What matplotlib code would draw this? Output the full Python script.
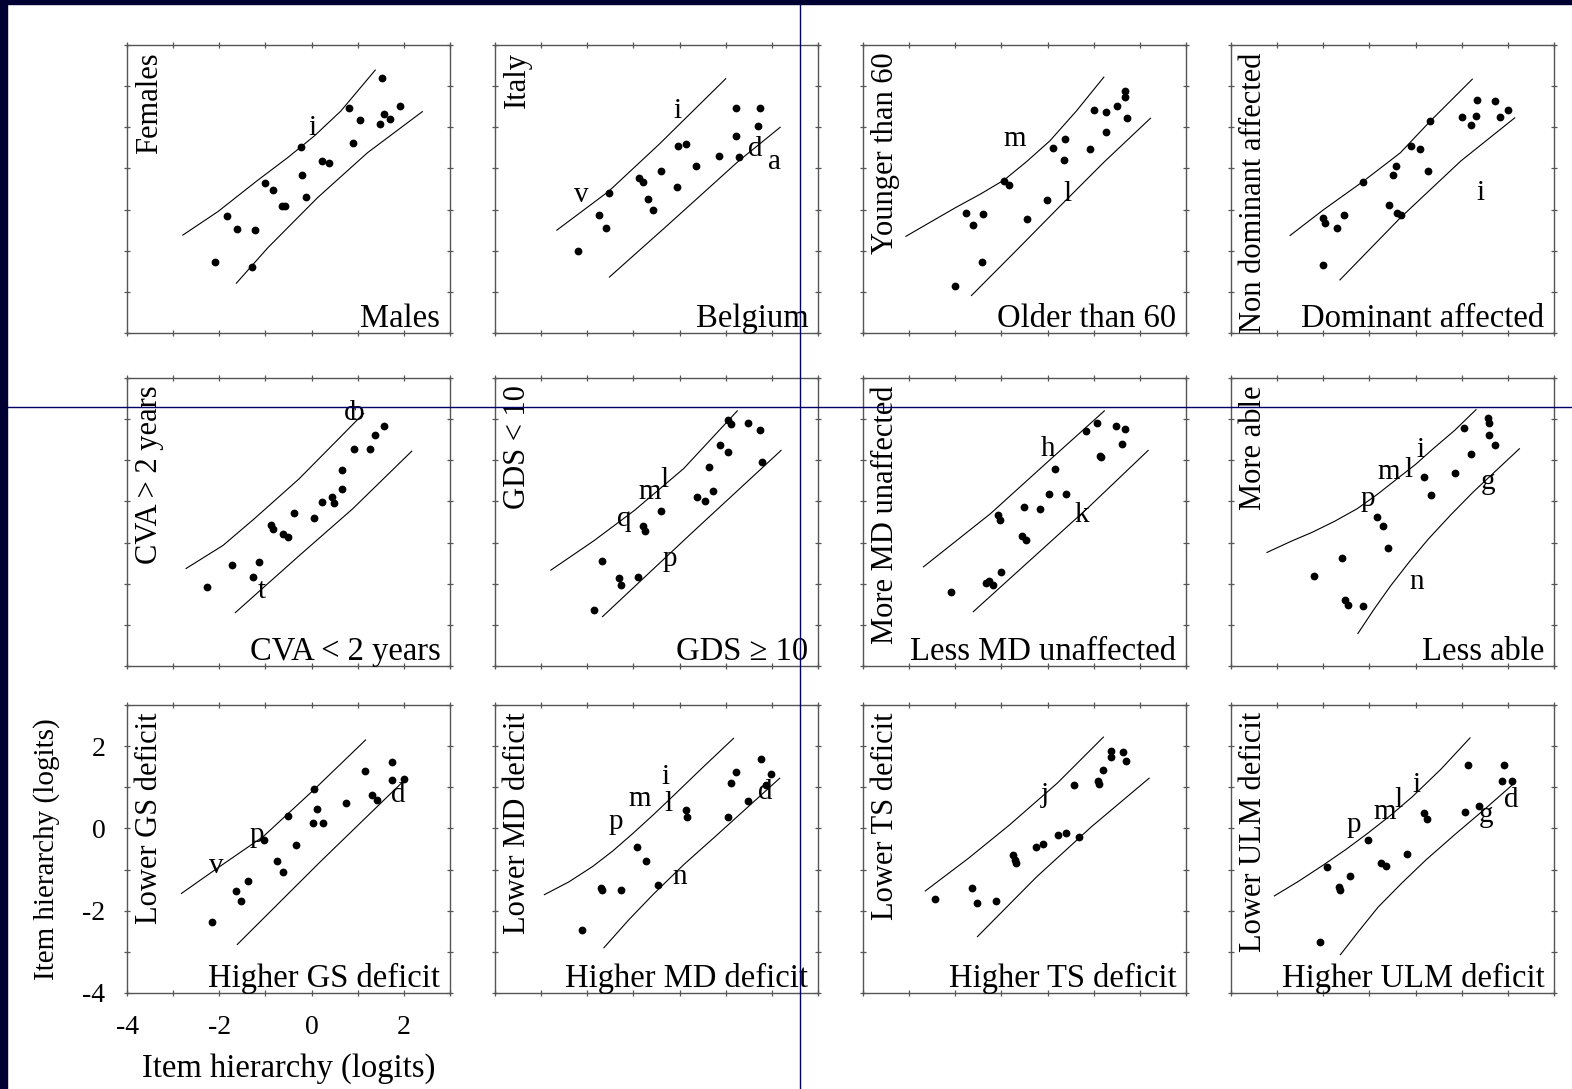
import matplotlib
matplotlib.use("Agg")
import matplotlib.pyplot as plt
from matplotlib.patches import Rectangle
from matplotlib.lines import Line2D

plt.rcParams['font.family'] = ['Liberation Serif', 'DejaVu Serif']
plt.rcParams['axes.unicode_minus'] = False

# --- data (logits) ---
# row 1
gender_x = [-2.10, -1.83, -1.62, -1.22, -1.30, -1.00, -0.84, -0.64, -0.58, -0.23, -0.20,
            -0.13, 0.23, 0.37, 0.81, 0.90, 1.05, 1.48, 1.53, 1.57, 1.71, 1.91]
gender_y = [-2.27, -1.15, -1.48, -1.50, -2.40, -0.36, -0.53, -0.92, -0.91, 0.53, -0.16,
            -0.70, 0.18, 0.13, 1.47, 0.62, 1.18, 1.07, 2.20, 1.33, 1.21, 1.51]
gender_hi = [(-2.79, -1.62), (-2.03, -1.05), (-1.17, -0.29), (-0.52, 0.26), (0.06, 0.79), (0.63, 1.39), (1.38, 2.39)]
gender_lo = [(-1.63, -2.79), (-0.95, -1.93), (0.13, -0.71), (1.21, 0.38), (2.40, 1.38)]
gender_tags = [("i", 0.02, 0.99)]

country_x = [-2.20, -1.74, -1.60, -1.54, -0.87, -0.79, -0.69, -0.58, -0.40, -0.06, -0.03,
             0.14, 0.35, 0.86, 1.23, 1.23, 1.29, 1.70, 1.75]
country_y = [-2.00, -1.13, -1.45, -0.59, -0.24, -0.33, -0.74, -1.01, -0.07, -0.46, 0.54,
             0.59, 0.06, 0.31, 1.47, 0.80, 0.28, 1.04, 1.47]
country_hi = [(-2.66, -1.50), (-1.54, -0.56), (-0.44, 0.59), (1.00, 2.18)]
country_lo = [(-1.52, -2.64), (-0.24, -1.36), (1.29, 0.19), (2.18, 1.00)]
country_tags = [("i", -0.05, 1.39), ("v", -2.13, -0.64), ("d", 1.65, 0.47), ("a", 2.06, 0.15)]

age_x = [-2.01, -1.77, -1.62, -1.43, -1.39, -0.94, -0.83, -0.45, -0.01, 0.12, 0.36,
         0.38, 0.93, 1.01, 1.26, 1.26, 1.50, 1.67, 1.67, 1.72]
age_y = [-2.85, -1.09, -1.38, -2.28, -1.11, -0.30, -0.41, -1.22, -0.77, 0.50, 0.20,
         0.71, 0.47, 1.43, 1.38, 0.89, 1.52, 1.87, 1.74, 1.23]
age_hi = [(-3.07, -1.65), (-2.50, -1.28), (-1.99, -0.95), (-1.45, -0.62), (-0.94, -0.28),
          (-0.45, 0.17), (0.05, 0.67), (0.62, 1.39), (1.22, 2.22)]
age_lo = [(-1.65, -3.09), (-0.70, -2.02), (0.24, -0.95), (1.22, 0.15), (2.23, 1.22)]
age_tags = [("m", -0.71, 0.72), ("l", 0.44, -0.63)]

side_x = [-2.01, -2.01, -1.96, -1.70, -1.56, -1.13, -0.57, -0.49, -0.42, -0.41, -0.32,
          -0.09, 0.09, 0.28, 0.31, 1.01, 1.21, 1.32, 1.33, 1.72, 1.83, 2.01]
side_y = [-2.34, -1.20, -1.33, -1.46, -1.13, -0.32, -0.90, -0.15, 0.07, -1.08, -1.13,
          0.54, 0.47, -0.07, 1.15, 1.24, 1.05, 1.27, 1.66, 1.65, 1.24, 1.43]
side_hi = [(-2.72, -1.63), (-1.99, -1.00), (-1.13, -0.31), (-0.33, 0.38), (0.31, 1.14), (1.23, 2.17)]
side_lo = [(-1.64, -2.71), (-0.33, -1.20), (0.98, 0.18), (2.15, 1.23)]
side_tags = [("i", 1.40, -0.59)]

# row 2
cva_x = [-2.27, -1.72, -1.28, -1.15, -0.87, -0.83, -0.61, -0.51, -0.39, 0.06, 0.23,
         0.45, 0.48, 0.65, 0.67, 0.91, 1.27, 1.37, 1.58]
cva_y = [-2.08, -1.54, -1.83, -1.47, -0.58, -0.66, -0.79, -0.87, -0.28, -0.41, -0.02,
         0.11, -0.05, 0.30, 0.76, 1.28, 1.28, 1.61, 1.84]
cva_hi = [(-2.72, -1.63), (-1.92, -1.07), (-1.24, -0.42), (-0.27, 0.55), (1.13, 2.14)]
cva_lo = [(-1.65, -2.70), (-0.27, -1.32), (0.89, -0.18), (2.17, 1.22)]
cva_tags = [("c", 0.84, 2.16), ("b", 1.00, 2.16), ("t", -1.09, -2.17)]

gds_x = [-1.86, -1.68, -1.31, -1.28, -0.91, -0.80, -0.74, -0.40, 0.37, 0.56, 0.63,
         0.72, 0.88, 1.05, 1.05, 1.11, 1.48, 1.74, 1.78]
gds_y = [-2.63, -1.44, -1.86, -2.03, -1.83, -0.59, -0.72, -0.23, 0.11, 0.01, 0.84,
         0.25, 1.37, 1.20, 1.98, 1.88, 1.91, 1.73, 0.95]
gds_hi = [(-2.79, -1.67), (-1.85, -0.95), (-0.98, -0.22), (0.09, 0.80), (1.25, 2.20)]
gds_lo = [(-1.67, -2.80), (0.28, -0.75), (2.20, 1.24)]
gds_tags = [("m", -0.64, 0.23), ("l", -0.32, 0.51), ("q", -1.20, -0.42), ("p", -0.22, -1.40)]

mdu_x = [-2.10, -1.34, -1.26, -1.19, -1.00, -1.08, -1.04, -0.55, -0.46, -0.52, -0.17,
         0.04, 0.16, 0.39, 0.83, 1.08, 1.13, 1.16, 1.49, 1.62, 1.67]
mdu_y = [-2.19, -1.98, -1.93, -2.03, -1.71, -0.34, -0.46, -0.85, -0.94, -0.14, -0.18,
         0.19, 0.78, 0.18, 1.72, 1.90, 1.11, 1.07, 1.83, 1.39, 1.76]
mdu_hi = [(-2.69, -1.59), (-1.24, -0.30), (0.02, 0.98), (1.23, 2.20)]
mdu_lo = [(-1.61, -2.68), (-0.27, -1.32), (0.89, -0.14), (2.18, 1.24)]
mdu_tags = [("h", 0.00, 1.27), ("k", 0.75, -0.34)]

able_x = [-2.21, -1.59, -1.53, -1.46, -1.14, -0.84, -0.71, -0.60, 0.18, 0.33, 0.85,
          1.05, 1.21, 1.57, 1.60, 1.60, 1.73]
able_y = [-1.82, -1.38, -2.39, -2.51, -2.53, -0.37, -0.59, -1.14, 0.59, 0.15, 0.68,
          1.79, 1.15, 2.02, 1.91, 1.61, 1.38]
able_hi = [(-3.22, -1.24), (-2.70, -0.97), (-2.24, -0.75), (-1.75, -0.48), (-1.27, -0.18),
           (-0.83, 0.17), (-0.40, 0.55), (0.00, 0.90), (0.38, 1.28), (0.85, 1.73), (1.31, 2.23)]
able_lo = [(-1.25, -3.21), (-0.90, -2.62), (-0.54, -2.05), (-0.13, -1.46), (0.28, -0.91),
           (0.76, -0.33), (1.25, 0.23), (2.25, 1.28)]
able_tags = [("p", -1.03, 0.07), ("m", -0.59, 0.72), ("l", -0.15, 0.76), ("i", 0.11, 1.24),
             ("g", 1.57, 0.47), ("n", 0.02, -1.97)]

# row 3
gs_x = [-2.16, -1.64, -1.54, -1.38, -1.04, -0.74, -0.61, -0.52, -0.33, 0.05, 0.04,
        0.12, 0.24, 0.74, 1.15, 1.31, 1.42, 1.75, 1.75, 2.01]
gs_y = [-2.27, -1.52, -1.77, -1.27, -0.28, -0.78, -1.07, 0.29, -0.41, 0.96, 0.14,
        0.47, 0.14, 0.63, 1.39, 0.81, 0.68, 1.62, 1.17, 1.19]
gs_hi = [(-2.82, -1.58), (-2.06, -0.98), (-1.05, -0.20), (0.05, 0.94), (1.17, 2.15)]
gs_lo = [(-1.61, -2.82), (0.18, -0.82), (2.02, 1.18)]
gs_tags = [("v", -2.06, -0.92), ("p", -1.18, -0.15), ("d", 1.88, 0.82)]

md_x = [-2.12, -1.70, -1.69, -1.27, -0.93, -0.72, -0.47, 0.15, 0.16, 1.04, 1.12,
        1.22, 1.48, 1.76, 1.98, 1.88]
md_y = [-2.48, -1.44, -1.50, -1.50, -0.45, -0.78, -1.37, 0.46, 0.28, 0.28, 1.10,
        1.37, 0.67, 1.69, 1.33, 1.06]
md_hi = [(-2.93, -1.61), (-2.40, -1.30), (-1.89, -0.93), (-1.45, -0.55), (-1.01, -0.12),
         (-0.57, 0.33), (-0.12, 0.81), (0.50, 1.48), (1.17, 2.19)]
md_lo = [(-1.64, -2.90), (-1.10, -2.22), (-0.56, -1.59), (0.10, -0.87), (0.77, -0.20), (2.17, 1.22)]
md_tags = [("i", -0.31, 1.26), ("m", -0.86, 0.72), ("l", -0.24, 0.59), ("p", -1.38, 0.16),
           ("n", 0.00, -1.18), ("d", 1.85, 0.88)]

ts_x = [-2.43, -1.64, -1.52, -1.11, -0.75, -0.71, -0.68, -0.25, -0.09, 0.22, 0.40,
        0.68, 0.58, 1.09, 1.12, 1.20, 1.38, 1.38, 1.63, 1.69]
ts_y = [-1.71, -1.45, -1.81, -1.76, -0.65, -0.77, -0.85, -0.46, -0.37, -0.15, -0.11,
        -0.20, 1.05, 1.16, 1.09, 1.42, 1.89, 1.74, 1.85, 1.63]
ts_hi = [(-2.65, -1.52), (-1.72, -0.73), (-0.83, 0.08), (0.21, 1.10), (1.21, 2.22)]
ts_lo = [(-1.52, -2.63), (-0.24, -1.18), (0.95, 0.04), (2.20, 1.22)]
ts_tags = [("j", -0.06, 0.81)]

ulm_x = [-2.07, -1.92, -1.67, -1.63, -1.43, -1.04, -0.74, -0.64, -0.19, 0.19, 0.25,
         1.08, 1.14, 1.38, 1.88, 1.92, 2.10]
ulm_y = [-2.77, -0.93, -1.42, -1.49, -1.16, -0.27, -0.83, -0.92, -0.63, 0.37, 0.22,
         0.41, 1.54, 0.54, 1.15, 1.55, 1.15]
ulm_hi = [(-3.06, -1.64), (-2.53, -1.28), (-2.00, -0.89), (-1.52, -0.52), (-1.04, -0.12),
          (-0.55, 0.31), (-0.07, 0.77), (0.55, 1.44), (1.18, 2.20)]
ulm_lo = [(-1.63, -3.07), (-1.22, -2.48), (-0.81, -1.91), (-0.30, -1.33), (0.22, -0.77),
          (0.85, -0.15), (1.48, 0.45), (2.14, 1.10)]
ulm_tags = [("p", -1.33, 0.08), ("m", -0.67, 0.41), ("l", -0.37, 0.69), ("i", 0.03, 1.06),
            ("g", 1.52, 0.33), ("d", 2.07, 0.69)]

y_titles = ["Females", "Italy", "Younger than 60", "Non dominant affected",
            "CVA > 2 years", "GDS < 10", "More MD unaffected", "More able",
            "Lower GS deficit", "Lower MD deficit", "Lower TS deficit", "Lower ULM deficit"]
x_titles = ["Males", "Belgium", "Older than 60", "Dominant affected",
            "CVA < 2 years", "GDS \u2265 10", "Less MD unaffected", "Less able",
            "Higher GS deficit", "Higher MD deficit", "Higher TS deficit", "Higher ULM deficit"]

panels = [
    (gender_x, gender_y, gender_hi, gender_lo, gender_tags),
    (country_x, country_y, country_hi, country_lo, country_tags),
    (age_x, age_y, age_hi, age_lo, age_tags),
    (side_x, side_y, side_hi, side_lo, side_tags),
    (cva_x, cva_y, cva_hi, cva_lo, cva_tags),
    (gds_x, gds_y, gds_hi, gds_lo, gds_tags),
    (mdu_x, mdu_y, mdu_hi, mdu_lo, mdu_tags),
    (able_x, able_y, able_hi, able_lo, able_tags),
    (gs_x, gs_y, gs_hi, gs_lo, gs_tags),
    (md_x, md_y, md_hi, md_lo, md_tags),
    (ts_x, ts_y, ts_hi, ts_lo, ts_tags),
    (ulm_x, ulm_y, ulm_hi, ulm_lo, ulm_tags),
]

ticks = [-4, -3, -2, -1, 0, 1, 2, 3]
tick_labels = ["-4", "", "-2", "", "0", "", "2", ""]

# --- figure layout (pixels of a 1572 x 1089 canvas) ---
W, H = 1572, 1089
fig = plt.figure(figsize=(W / 100, H / 100), dpi=100)
fig.patch.set_facecolor("white")

col_left = [127, 495, 863, 1231]
row_top = [45, 378, 705]
pw, ph = 323, 288
spine_col = "#555555"

for k, (xs, ys, hi, lo, tags) in enumerate(panels):
    r, c = divmod(k, 4)
    ax = fig.add_axes([col_left[c] / W, 1 - (row_top[r] + ph) / H, pw / W, ph / H])
    ax.set_xlim(-4, 3)
    ax.set_ylim(-4, 3)
    ax.plot([p[0] for p in hi], [p[1] for p in hi], color="black", lw=0.8)
    ax.plot([p[0] for p in lo], [p[1] for p in lo], color="black", lw=0.8)
    ax.plot(xs, ys, "o", color="black", ms=5.6, mec="none")
    for t, tx, ty in tags:
        ax.text(tx, ty, t, fontsize=21, ha="center", va="center")
    ax.text(0.025, 0.975, y_titles[k], transform=ax.transAxes, rotation=90,
            ha="left", va="top", fontsize=22)
    ax.text(0.97, 0.022, x_titles[k], transform=ax.transAxes,
            ha="right", va="baseline", fontsize=23.5)

    ax.set_xticks(ticks)
    ax.set_yticks(ticks)
    for s in ax.spines.values():
        s.set_color(spine_col)
        s.set_linewidth(1.0)
    ax.tick_params(direction="inout", length=5, width=0.9, color=spine_col,
                   top=True, right=True, labelsize=20, pad=13)
    if k == 8:
        ax.set_xticklabels(tick_labels)
        ax.set_yticklabels(tick_labels)
        ax.set_xlabel("Item hierarchy (logits)", fontsize=23.5, labelpad=10)
        ax.set_ylabel("Item hierarchy (logits)", fontsize=21, labelpad=16)
    else:
        ax.set_xticklabels([])
        ax.set_yticklabels([])

# slide frame and stray guide lines
navy = "#000033"
fig.add_artist(Rectangle((0, 0), 7 / W, 1, transform=fig.transFigure,
                         color=navy, zorder=20))
fig.add_artist(Rectangle((0, 1 - 4 / H), 1, 4 / H, transform=fig.transFigure,
                         color=navy, zorder=20))
fig.add_artist(Line2D([800 / W, 800 / W], [0, 1 - 4 / H], transform=fig.transFigure,
                      color="#000066", lw=1.0, zorder=19))
fig.add_artist(Line2D([7 / W, 1], [1 - 407 / H, 1 - 407 / H], transform=fig.transFigure,
                      color="#000066", lw=1.0, zorder=19))

fig.savefig("out.png", dpi=100)
